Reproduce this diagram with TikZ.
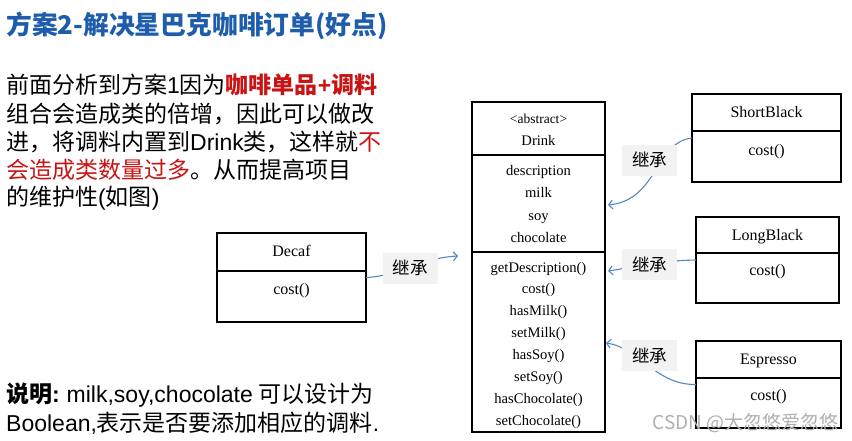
\documentclass[tikz,border=0pt]{standalone}
\usepackage{fontspec}
\setmainfont{Liberation Serif}
\newfontfamily\cjk{Noto Sans CJK SC}
\newfontfamily\lat{Liberation Sans}
\usetikzlibrary{arrows.meta}
\definecolor{titleblue}{RGB}{30,92,172}
\definecolor{hired}{RGB}{200,20,20}
\definecolor{connblue}{RGB}{85,135,195}
\definecolor{lblgray}{RGB}{242,242,242}
\definecolor{wmgray}{RGB}{175,175,175}
\tikzset{
  classbox/.style={draw=black, line width=1.8pt, outer sep=0pt, inner sep=0pt},
  sepline/.style={draw=black, line width=1.8pt},
  cls/.style={font=\fontsize{16}{18}\selectfont, inner sep=0pt, text height=11pt, text depth=1pt},
  drinktxt/.style={font=\fontsize{14.6}{16}\selectfont, inner sep=0pt, text height=10pt, text depth=0.6pt},
  lbl/.style={fill=lblgray, minimum width=55pt, minimum height=31pt, inner sep=0pt, font=\cjk\fontsize{17.5}{18}\selectfont},
  conn/.style={draw=connblue, line width=1.1pt, -{Straight Barb[length=4pt,width=9pt]}},
  bodytxt/.style={anchor=west, inner sep=0pt, font=\cjk\fontsize{23}{26}\selectfont},
}
\begin{document}
\begin{tikzpicture}[x=1pt,y=-1pt]
\useasboundingbox (0,0) rectangle (852,440);
% title
\node[anchor=west, inner sep=0pt, text=titleblue, font=\cjk\bfseries\fontsize{25.8}{28}\selectfont] (title) at (6,26) {方案2-解决星巴克咖啡订单(好点)};
% body text
\node[bodytxt] (l1) at (6,85) {前面分析到方案{\lat 1}因为\textcolor{hired}{\bfseries 咖啡单品{\lat +}调料}};
\node[bodytxt] (l2) at (6,114) {组合会造成类的倍增，因此可以做改};
\node[bodytxt] (l3) at (6,142) {进，将调料内置到{\lat Drink}类，这样就\textcolor{hired}{不}};
\node[bodytxt] (l4) at (6,170) {\textcolor{hired}{会造成类数量过多}。从而提高项目};
\node[bodytxt] (l5) at (6,198) {的维护性{\lat (}如图{\lat )}};
\node[bodytxt] (n1) at (6,395) {{\bfseries 说明{\lat :}} {\lat milk,soy,chocolate} 可以设计为};
\node[bodytxt] (n2) at (6,423) {{\lat Boolean,}表示是否要添加相应的调料{\lat .}};

% Drink
\node[classbox, minimum width=133pt, minimum height=330pt] (drink) at (538.5,267) {};
\draw[sepline] (drink.west |- 0,155) -- (drink.east |- 0,155);
\draw[sepline] (drink.west |- 0,252) -- (drink.east |- 0,252);
\node[drinktxt, font=\fontsize{13.5}{15}\selectfont] (dabs) at (538.5,119) {\textless abstract\textgreater};
\node[drinktxt] (dname) at (538.5,141) {Drink};
\node[drinktxt] (d1) at (538.5,171) {description};
\node[drinktxt] (d2) at (538.5,193) {milk};
\node[drinktxt] (d3) at (538.5,216) {soy};
\node[drinktxt] (d4) at (538.5,238) {chocolate};
\node[drinktxt] (m1) at (538.5,268) {getDescription()};
\node[drinktxt] (m2) at (538.5,289) {cost()};
\node[drinktxt] (m3) at (538.5,311) {hasMilk()};
\node[drinktxt] (m4) at (538.5,333) {setMilk()};
\node[drinktxt] (m5) at (538.5,355) {hasSoy()};
\node[drinktxt] (m6) at (538.5,377) {setSoy()};
\node[drinktxt] (m7) at (538.5,399) {hasChocolate()};
\node[drinktxt] (m8) at (538.5,421) {setChocolate()};

% ShortBlack
\node[classbox, minimum width=149pt, minimum height=88pt] (sb) at (766.5,138) {};
\draw[sepline] (sb.west |- 0,131) -- (sb.east |- 0,131);
\node[cls] (sbname) at (766.5,112) {ShortBlack};
\node[cls] (sbcost) at (766.5,150) {cost()};

% LongBlack
\node[classbox, minimum width=143pt, minimum height=86pt] (lb) at (767.5,260) {};
\draw[sepline] (lb.west |- 0,253) -- (lb.east |- 0,253);
\node[cls] (lbname) at (767.5,235) {LongBlack};
\node[cls] (lbcost) at (767.5,270) {cost()};

% Espresso
\node[classbox, minimum width=145pt, minimum height=87pt] (esp) at (768.5,384.5) {};
\draw[sepline] (esp.west |- 0,378) -- (esp.east |- 0,378);
\node[cls] (espname) at (768.5,359) {Espresso};
\node[cls] (espcost) at (768.5,395) {cost()};

% Decaf
\node[classbox, minimum width=149pt, minimum height=89pt] (decaf) at (291.5,277.5) {};
\draw[sepline] (decaf.west |- 0,271) -- (decaf.east |- 0,271);
\node[cls] (dcname) at (291.5,251) {Decaf};
\node[cls] (dccost) at (291.5,289) {cost()};

% arrow tips
\coordinate (t1) at (608,205);
\coordinate (t2) at (608,271);
\coordinate (t3) at (606,343);
\coordinate (t4) at (458,256);

% connectors
\draw[conn] (sb.west) .. controls (655,142) and (658,200) .. (t1);
\draw[conn] (lb.west) .. controls (650,261) and (630,268) .. (t2);
\draw[conn] (esp.west) .. controls (655,385) and (640,348) .. (t3);
\draw[conn] (decaf.east) .. controls (400,276) and (420,258) .. (t4);

% labels
\node[lbl] (k1) at (649.5,160) {继承};
\node[lbl] (k2) at (649.5,264.5) {继承};
\node[lbl] (k3) at (649.5,355.5) {继承};
\node[lbl] (k4) at (410,268) {继承};

% watermark
\node[anchor=east, inner sep=0pt, text=wmgray, font=\cjk\fontsize{19}{20}\selectfont] (wm) at (839,423) {CSDN @大忽悠爱忽悠};
\end{tikzpicture}
\end{document}
